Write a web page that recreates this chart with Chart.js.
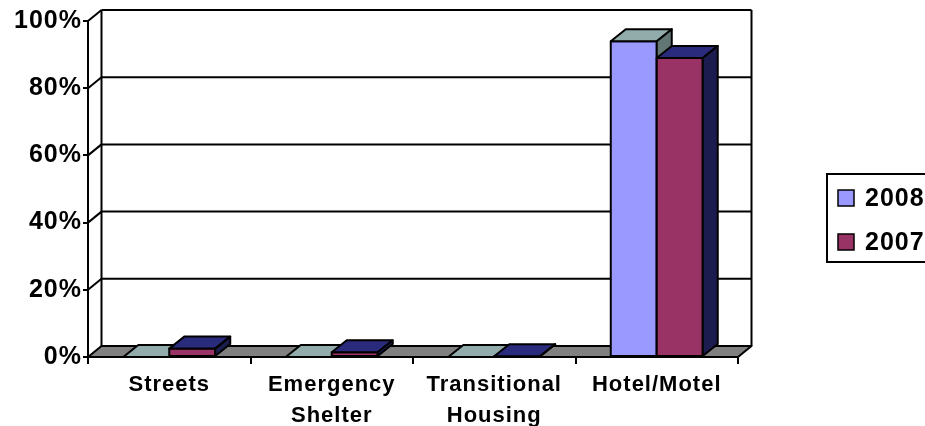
<!DOCTYPE html>
<html>
<head>
<meta charset="utf-8">
<script src="https://cdn.jsdelivr.net/npm/chart.js@4.4.0/dist/chart.umd.min.js"></script>
<style>
    html, body { margin: 0; padding: 0; background: #fff; }
    #wrap { width: 925px; height: 426px; }
</style>
</head>
<body>
<div id="wrap"><canvas id="barChart"></canvas></div>
<script>
var categories = [['Streets'], ['Emergency', 'Shelter'], ['Transitional', 'Housing'], ['Hotel/Motel']];
var seriesNames = ['2008', '2007'];
var values2008 = [0, 0, 0, 94];
var values2007 = [2.5, 1.4, 0.2, 89];
var yTicks = [0, 20, 40, 60, 80, 100];

var fontFamily = '"Liberation Sans", Arial, sans-serif';

// depth of the walls / floor and of the bars
var wallDx = 13.5, wallDy = -11;
var barDx = 15, barDy = -12;

function poly(ctx, pts, fill) {
    ctx.beginPath();
    ctx.moveTo(pts[0][0], pts[0][1]);
    for (var i = 1; i < pts.length; i++) ctx.lineTo(pts[i][0], pts[i][1]);
    ctx.closePath();
    ctx.fillStyle = fill;
    ctx.fill();
    ctx.stroke();
}

function line(ctx, x1, y1, x2, y2) {
    ctx.beginPath();
    ctx.moveTo(x1, y1);
    ctx.lineTo(x2, y2);
    ctx.stroke();
}

var box3d = {
    id: 'box3d',
    beforeDraw: function (chart) {
        chart.ctx.letterSpacing = '1px';
    },
    beforeDatasetsDraw: function (chart) {
        var ctx = chart.ctx, a = chart.chartArea, y = chart.scales.y;
        ctx.save();
        ctx.strokeStyle = '#000';
        ctx.lineWidth = 2;
        ctx.lineJoin = 'round';

        // floor
        poly(ctx, [[a.left, a.bottom], [a.right, a.bottom],
                   [a.right + wallDx, a.bottom + wallDy], [a.left + wallDx, a.bottom + wallDy]], '#808080');

        // back wall gridlines + side wall diagonals
        yTicks.forEach(function (v) {
            var py = y.getPixelForValue(v);
            if (v > 0) {
                line(ctx, a.left + wallDx, py + wallDy, a.right + wallDx, py + wallDy);
                line(ctx, a.left, py, a.left + wallDx, py + wallDy);
            }
        });
        var top = y.getPixelForValue(100) + wallDy, bot = a.bottom + wallDy;
        line(ctx, a.left + wallDx, top, a.left + wallDx, bot);
        line(ctx, a.right + wallDx, top, a.right + wallDx, bot);
        ctx.restore();
    },
    beforeDatasetDraw: function () {
        return false;
    },
    afterDatasetsDraw: function (chart) {
        var ctx = chart.ctx;
        ctx.save();
        ctx.strokeStyle = '#000';
        ctx.lineWidth = 2;
        ctx.lineJoin = 'round';
        chart.data.datasets.forEach(function (ds, i) {
            var meta = chart.getDatasetMeta(i);
            meta.data.forEach(function (bar) {
                var p = bar.getProps(['x', 'y', 'base', 'width'], true);
                var x0 = p.x - p.width / 2, x1 = p.x + p.width / 2;
                var yt = p.y, yb = p.base;
                poly(ctx, [[x0, yb], [x1, yb], [x1, yt], [x0, yt]], ds.backgroundColor);
                poly(ctx, [[x0, yt], [x1, yt], [x1 + barDx, yt + barDy], [x0 + barDx, yt + barDy]], ds.topColor);
                poly(ctx, [[x1, yt], [x1 + barDx, yt + barDy], [x1 + barDx, yb + barDy], [x1, yb]], ds.sideColor);
            });
        });
        ctx.restore();
    },
    afterDraw: function (chart) {
        var ctx = chart.ctx;
        ctx.save();
        ctx.strokeStyle = '#000';
        ctx.lineWidth = 2;
        ctx.strokeRect(827, 174, 130, 88);
        ctx.font = 'bold 25px ' + fontFamily;
        ctx.letterSpacing = '1px';
        ctx.textBaseline = 'middle';
        chart.data.datasets.forEach(function (ds, i) {
            var cy = 198 + i * 44;
            ctx.fillStyle = ds.backgroundColor;
            ctx.fillRect(838, cy - 8, 16, 16);
            ctx.lineWidth = 1.5;
            ctx.strokeRect(838, cy - 8, 16, 16);
            ctx.fillStyle = '#000';
            ctx.fillText(ds.label, 865, cy + 1);
        });
        ctx.restore();
    }
};

var ctx = document.getElementById('barChart');
var myChart = new Chart(ctx, {
    type: 'bar',
    data: {
        labels: categories,
        datasets: [{
            label: seriesNames[0],
            data: values2008,
            backgroundColor: '#9999FF',
            topColor: '#92ABAB',
            sideColor: '#627774'
        }, {
            label: seriesNames[1],
            data: values2007,
            backgroundColor: '#993366',
            topColor: '#2B2B7D',
            sideColor: '#1C1C4E'
        }]
    },
    options: {
        responsive: true,
        maintainAspectRatio: false,
        animation: false,
        devicePixelRatio: 1,
        layout: { padding: { left: 0, top: 21, right: 187, bottom: 0 } },
        datasets: {
            bar: { barPercentage: 1, categoryPercentage: 0.566 }
        },
        scales: {
            x: {
                offset: true,
                grid: {
                    display: true,
                    drawOnChartArea: false,
                    offset: true,
                    tickLength: 7,
                    color: '#000',
                    lineWidth: 2
                },
                border: { display: false },
                ticks: {
                    color: '#000',
                    maxRotation: 0,
                    autoSkip: false,
                    padding: 6,
                    font: { family: fontFamily, size: 22, weight: 'bold', lineHeight: 1.4 }
                },
                afterFit: function (scale) { scale.height = 69; }
            },
            y: {
                min: 0,
                max: 100,
                afterBuildTicks: function (scale) {
                    scale.ticks = yTicks.map(function (v) { return { value: v }; });
                },
                grid: {
                    drawOnChartArea: false,
                    tickLength: 5,
                    color: '#000',
                    lineWidth: 2
                },
                border: { display: true, color: '#000', width: 2 },
                ticks: {
                    color: '#000',
                    padding: 1,
                    callback: function (v) { return v + '%'; },
                    font: { family: fontFamily, size: 25, weight: 'bold' }
                },
                afterFit: function (scale) { scale.width = 88; }
            }
        },
        plugins: {
            legend: { display: false },
            tooltip: { enabled: false }
        }
    },
    plugins: [box3d]
});
</script>
</body>
</html>
